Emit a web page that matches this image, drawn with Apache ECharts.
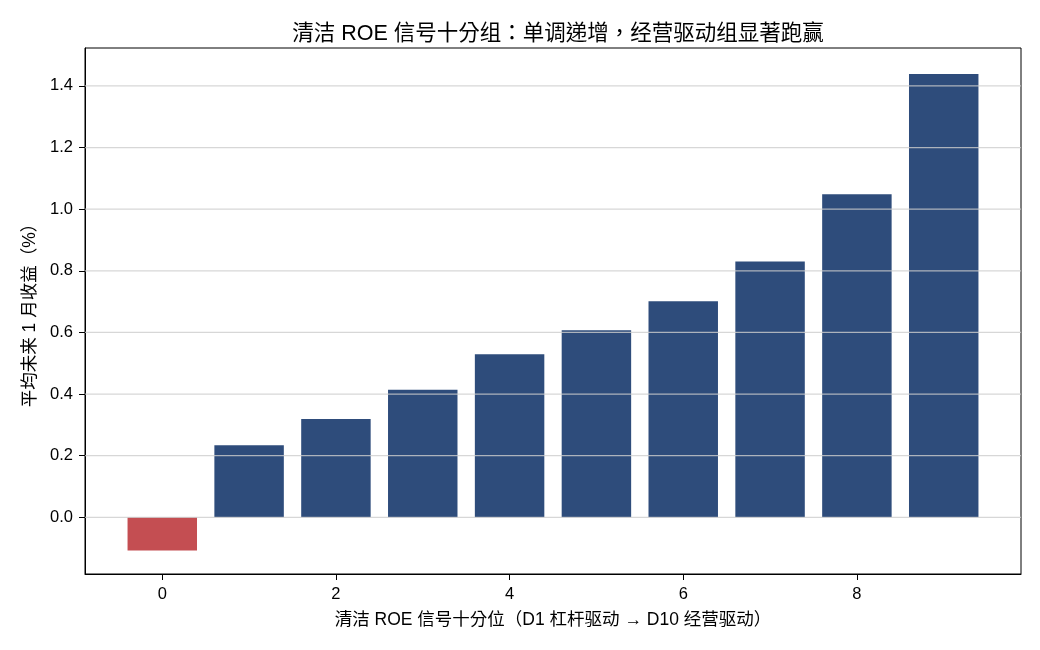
<!DOCTYPE html>
<html>
<head>
<meta charset="utf-8">
<script src="https://cdn.jsdelivr.net/npm/echarts@6/dist/echarts.min.js"></script>
<style>
html,body{margin:0;padding:0;background:#fff;}
#chart{width:1040px;height:650px;}
</style>
</head>
<body>
<div id="chart"></div>
<script>
// ---- data ----
const deciles = [0, 1, 2, 3, 4, 5, 6, 7, 8, 9];
const meanReturns = [-0.108, 0.234, 0.319, 0.414, 0.529, 0.607, 0.701, 0.830, 1.048, 1.439];
const xTicks = [0, 2, 4, 6, 8];
const yTicks = [0.0, 0.2, 0.4, 0.6, 0.8, 1.0, 1.2, 1.4];
const titleText = '清洁 ROE 信号十分组：单调递增，经营驱动组显著跑赢';
const xName = '清洁 ROE 信号十分位（D1 杠杆驱动 → D10 经营驱动）';
const yName = '平均未来 1 月收益（%）';

const X_MIN = -0.89, X_MAX = 9.89;
const Y_MIN = -0.184, Y_MAX = 1.523;
const BAR_W = 0.8;
const FONT = '"Liberation Sans", "Noto Sans CJK TC", sans-serif';

const chart = echarts.init(document.getElementById('chart'), null, {renderer: 'canvas'});

const barData = deciles.map((d, i) => [d, meanReturns[i]]);
const gridData = yTicks.map(v => [v]);

chart.setOption({
  animation: false,
  backgroundColor: '#ffffff',
  title: {
    text: titleText,
    left: 553,
    top: 18,
    textAlign: 'center',
    textStyle: {fontFamily: FONT, fontSize: 21.5, fontWeight: 'normal', color: '#000'}
  },
  grid: {
    left: 85, right: 19, top: 48, bottom: 76,
    show: true, borderColor: '#000', borderWidth: 1, backgroundColor: '#fff'
  },
  xAxis: {
    type: 'value', min: X_MIN, max: X_MAX,
    name: xName, nameLocation: 'middle', nameGap: 37,
    nameTextStyle: {fontFamily: FONT, fontSize: 17.5, color: '#000'},
    axisLine: {show: true, onZero: false, lineStyle: {color: '#000', width: 1}},
    axisTick: {show: true, length: 6, lineStyle: {color: '#000'}, customValues: xTicks},
    axisLabel: {fontFamily: FONT, fontSize: 16.5, color: '#000', margin: 12, customValues: xTicks},
    splitLine: {show: false}
  },
  yAxis: {
    type: 'value', min: Y_MIN, max: Y_MAX,
    name: yName, nameLocation: 'middle', nameGap: 44,
    nameTextStyle: {fontFamily: FONT, fontSize: 17.5, color: '#000'},
    axisLine: {show: true, onZero: false, lineStyle: {color: '#000', width: 1}},
    axisTick: {show: true, length: 6, lineStyle: {color: '#000'}, customValues: yTicks},
    axisLabel: {fontFamily: FONT, fontSize: 16.5, color: '#000', margin: 12,
      customValues: yTicks, formatter: v => v.toFixed(1)},
    splitLine: {show: false}
  },
  series: [
    {
      type: 'custom',
      name: 'bars',
      z: 2,
      data: barData,
      renderItem: function (params, api) {
        const x = api.value(0), v = api.value(1);
        const p1 = api.coord([x - BAR_W / 2, v]);
        const p2 = api.coord([x + BAR_W / 2, 0]);
        const y0 = Math.min(p1[1], p2[1]);
        const h = Math.abs(p2[1] - p1[1]);
        return {
          type: 'rect',
          shape: {x: p1[0], y: y0, width: p2[0] - p1[0], height: h},
          style: {fill: v < 0 ? '#c44e52' : '#2e4c7b'}
        };
      }
    },
    {
      type: 'custom',
      name: 'gridlines',
      z: 5,
      silent: true,
      data: gridData,
      renderItem: function (params, api) {
        const v = api.value(0);
        const a = api.coord([X_MIN, v]);
        const b = api.coord([X_MAX, v]);
        return {
          type: 'line',
          shape: {x1: a[0], y1: a[1], x2: b[0], y2: b[1]},
          style: {stroke: 'rgba(205,205,205,0.8)', lineWidth: 1.2}
        };
      }
    }
  ]
});
</script>
</body>
</html>
